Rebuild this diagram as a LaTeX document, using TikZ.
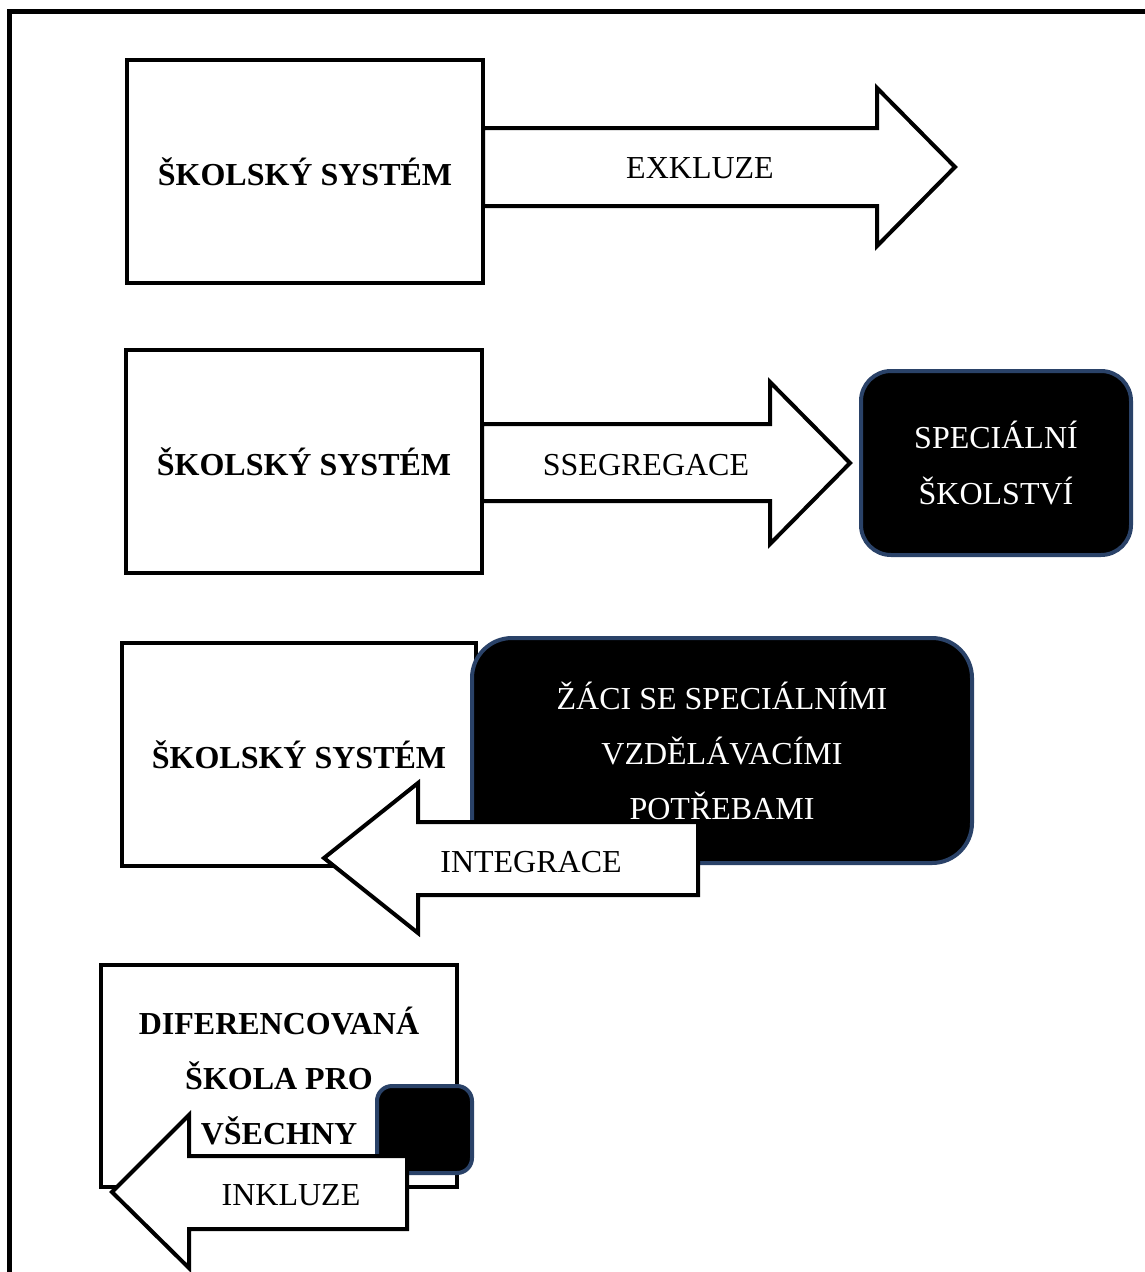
\documentclass[tikz,border=0pt]{standalone}
\usepackage{fontspec}
\setmainfont{Liberation Serif}
\definecolor{edgeblue}{RGB}{42,66,104}
\tikzset{sysbox/.style={draw, line width=4pt, fill=white, inner sep=0pt, outer sep=0pt,
    anchor=north west, font=\fontsize{32}{55}\selectfont\bfseries, align=center},
  darkbox/.style={draw=edgeblue, line width=4pt, fill=black, rounded corners=#1, inner sep=0pt,
    outer sep=0pt, anchor=north west, text=white, font=\fontsize{32}{55}\selectfont, align=center},
  flow/.style={draw, line width=4pt, fill=white, miter limit=10},
  lbl/.style={font=\fontsize{32}{55}\selectfont}}

\begin{document}
\begin{tikzpicture}[x=1pt, y=-1pt]
  \useasboundingbox (0,0) rectangle (1145,1272);
  \draw[line width=5pt] (9,1272) |- (1145,11);
  % exclusion
  \draw[flow] (483,128) -- (877,128) -- (877,88) -- (955,167) -- (877,246) -- (877,206) -- (483,206) -- cycle;
  \node[lbl] (exkl) at (700,168) {EXKLUZE};
  \node[sysbox, minimum width=356pt, minimum height=223pt] (sys1) at (127,60) {ŠKOLSKÝ SYSTÉM};
  % segregation
  \draw[flow] (482,424) -- (770,424) -- (770,382) -- (850,463) -- (770,544) -- (770,501) -- (482,501) -- cycle;
  \node[lbl] (segr) at (646,465) {SSEGREGACE};
  \node[sysbox, minimum width=356pt, minimum height=223pt] (sys2) at (126,350) {ŠKOLSKÝ SYSTÉM};
  \node[darkbox=30pt, minimum width=270pt, minimum height=184pt] (spec) at (861,371) {SPECIÁLNÍ\\ŠKOLSTVÍ};
  % integration
  \node[sysbox, minimum width=354pt, minimum height=223pt] (sys3) at (122,643) {ŠKOLSKÝ SYSTÉM};
  \node[darkbox=40pt, minimum width=500pt, minimum height=225pt] (zaci) at (472,638)
    {ŽÁCI SE SPECIÁLNÍMI\\VZDĚLÁVACÍMI\\POTŘEBAMI};
  \draw[flow] (698,822) -- (418,822) -- (418,783) -- (324,858) -- (418,933) -- (418,895) -- (698,895) -- cycle;
  \node[lbl] (integ) at (531,862) {INTEGRACE};
  % inclusion
  \node[sysbox, minimum width=356pt, minimum height=222pt] (skola) at (101,965)
    {DIFERENCOVANÁ\\ŠKOLA PRO\\VŠECHNY};
  \node[darkbox=15pt, minimum width=95pt, minimum height=87pt] (mini) at (377,1086) {};
  \draw[flow] (407,1156) -- (189,1156) -- (189,1115) -- (112,1192) -- (189,1268) -- (189,1229) -- (407,1229) -- cycle;
  \node[lbl] (inkl) at (291,1195) {INKLUZE};
\end{tikzpicture}
\end{document}
